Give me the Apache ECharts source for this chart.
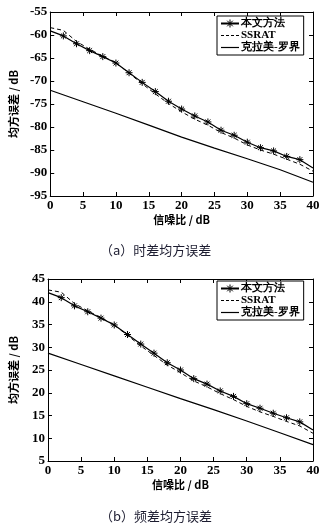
<!DOCTYPE html>
<html>
<head>
<meta charset="utf-8">
<script src="https://cdn.jsdelivr.net/npm/echarts@6/dist/echarts.min.js"></script>
<style>
html,body{margin:0;padding:0;background:#fff;}
#c{width:326px;height:530px;}
</style>
</head>
<body>
<div id="c"></div>
<script>
// ---- data ----
const snr = [0,2,4,6,8,10,12,14,16,18,20,22,24,26,28,30,32,34,36,38,40];
const tdoaProposed = [-59.1,-60.2,-61.9,-63.4,-64.7,-66.1,-68.2,-70.3,-72.3,-74.4,-76.1,-77.6,-78.9,-80.7,-81.8,-83.3,-84.5,-85.2,-86.4,-87.1,-88.9];
const tdoaSSRAT    = [-58.4,-59.0,-61.4,-63.1,-64.6,-66.0,-68.3,-70.6,-72.8,-74.9,-76.7,-78.3,-79.6,-81.2,-82.4,-83.9,-85.0,-85.9,-87.0,-88.1,-89.6];
const crbSnr = [0,5,10,15,20,25,30,35,40];
const tdoaCRB = [-72.0,-74.5,-77.0,-79.6,-82.2,-84.6,-86.9,-89.3,-92.0];
const fdoaProposed = [42.0,40.9,39.1,37.8,36.4,34.9,32.8,30.7,28.7,26.6,25.0,23.1,21.9,20.4,19.2,17.6,16.6,15.5,14.5,13.6,11.8];
const fdoaSSRAT    = [42.6,42.1,39.6,38.0,36.5,34.9,32.6,30.3,28.2,26.1,24.4,22.6,21.3,19.8,18.5,17.0,15.8,14.8,13.7,12.7,11.1];
const fdoaCRB = [28.7,26.2,23.7,21.2,18.7,16.3,13.8,11.2,8.6];
const xTicks = {min:0, max:40, interval:5};
const yTopTicks = {min:-95, max:-55, interval:5};
const yBotTicks = {min:5, max:45, interval:5};
const names = ['本文方法','SSRAT','克拉美-罗界'];
const captions = ['（a）时差均方误差','（b）频差均方误差'];
const xName = '信噪比 / dB';
const yName = '均方误差 / dB';

// ---- chart ----
const SERIF = 'Liberation Serif';
const CJK = 'Noto Sans CJK SC';
const star = 'path://M5,0L5,10M0,5L10,5M1.5,1.5L8.5,8.5M1.5,8.5L8.5,1.5';
const grids = [
  {left:38, right:13, top:12, height:184},
  {left:38, right:13, top:279, height:182}
];
function pairs(xs, ys, markers){
  return xs.map((x,i)=>{
    const d = {value:[x, ys[i]]};
    if (markers && (i===0 || i===xs.length-1)) d.symbol = 'none';
    return d;
  });
}
const tick = {show:true, inside:true, length:4, lineStyle:{color:'#000'}};
const line = {show:true, onZero:false, lineStyle:{color:'#000', width:1}};
function label(){ return {color:'#000', fontFamily:SERIF, fontWeight:'bold', fontSize:13, margin:3}; }
function xAxes(gi){
  return [
    Object.assign({type:'value', gridIndex:gi, position:'bottom',
      axisLine:line, axisTick:tick, axisLabel:label(), splitLine:{show:false},
      name:xName, nameLocation:'middle', nameGap:18,
      nameTextStyle:{color:'#000', fontFamily:CJK, fontSize:11}}, xTicks),
    Object.assign({type:'value', gridIndex:gi, position:'top',
      axisLine:line, axisTick:tick, axisLabel:{show:false}, splitLine:{show:false}}, xTicks)
  ];
}
function yAxes(gi, t){
  return [
    Object.assign({type:'value', gridIndex:gi, position:'left',
      axisLine:line, axisTick:tick, axisLabel:label(), splitLine:{show:false},
      name:yName, nameLocation:'middle', nameGap:29, nameRotate:90,
      nameTextStyle:{color:'#000', fontFamily:CJK, fontSize:11}}, t),
    Object.assign({type:'value', gridIndex:gi, position:'right',
      axisLine:line, axisTick:tick, axisLabel:{show:false}, splitLine:{show:false}}, t)
  ];
}
function seriesFor(gi, prop, ssrat, crb){
  const xi = gi*2, yi = gi*2;
  return [
    {name:names[0], type:'line', xAxisIndex:xi, yAxisIndex:yi, data:pairs(snr, prop, true),
      symbol:star, symbolSize:7, showAllSymbol:true, animation:false,
      lineStyle:{color:'#000', width:1.2},
      itemStyle:{color:'#000', borderColor:'#000', borderWidth:1}},
    {name:names[1], type:'line', xAxisIndex:xi, yAxisIndex:yi, data:pairs(snr, ssrat, false),
      symbol:'none', animation:false,
      lineStyle:{color:'#000', width:1, type:[4,3]}, itemStyle:{color:'#000'}},
    {name:names[2], type:'line', xAxisIndex:xi, yAxisIndex:yi, data:pairs(crbSnr, crb, false),
      symbol:'none', animation:false,
      lineStyle:{color:'#000', width:1.2}, itemStyle:{color:'#000'}}
  ];
}
function legendAt(top){
  const hidden = {color:'rgba(0,0,0,0)', borderColor:'rgba(0,0,0,0)', borderWidth:0};
  return {
    data:[
      {name:names[0], itemStyle:{color:'#000', borderColor:'#000', borderWidth:1}},
      {name:names[1], itemStyle:hidden, lineStyle:{color:'#000', width:1, type:[3,2]}},
      {name:names[2], itemStyle:hidden, lineStyle:{color:'#000', width:1.2}}
    ],
    orient:'vertical', left:217, top:top,
    itemWidth:18, itemHeight:10, itemGap:1, padding:[2,4,2,3],
    backgroundColor:'#fff', borderColor:'#000', borderWidth:1, borderRadius:0,
    selectedMode:false,
    textStyle:{color:'#000', fontFamily:SERIF, fontWeight:'bold', fontSize:11, padding:[0,0,0,-3]}};
}
const chart = echarts.init(document.getElementById('c'), null, {renderer:'canvas'});
chart.setOption({
  backgroundColor:'#fff',
  animation:false,
  textStyle:{fontFamily:SERIF, fontWeight:'bold'},
  grid:grids,
  xAxis:[...xAxes(0), ...xAxes(1)],
  yAxis:[...yAxes(0, yTopTicks), ...yAxes(1, yBotTicks)],
  legend:[legendAt(16), legendAt(281)],
  series:[...seriesFor(0, tdoaProposed, tdoaSSRAT, tdoaCRB), ...seriesFor(1, fdoaProposed, fdoaSSRAT, fdoaCRB)],
  graphic:[
    {type:'text', left:100, top:244, style:{text:captions[0], fill:'#1c1c30', font:'13px "Noto Sans CJK SC", sans-serif'}},
    {type:'text', left:100, top:510, style:{text:captions[1], fill:'#1c1c30', font:'13px "Noto Sans CJK SC", sans-serif'}}
  ]
});
</script>
</body>
</html>
